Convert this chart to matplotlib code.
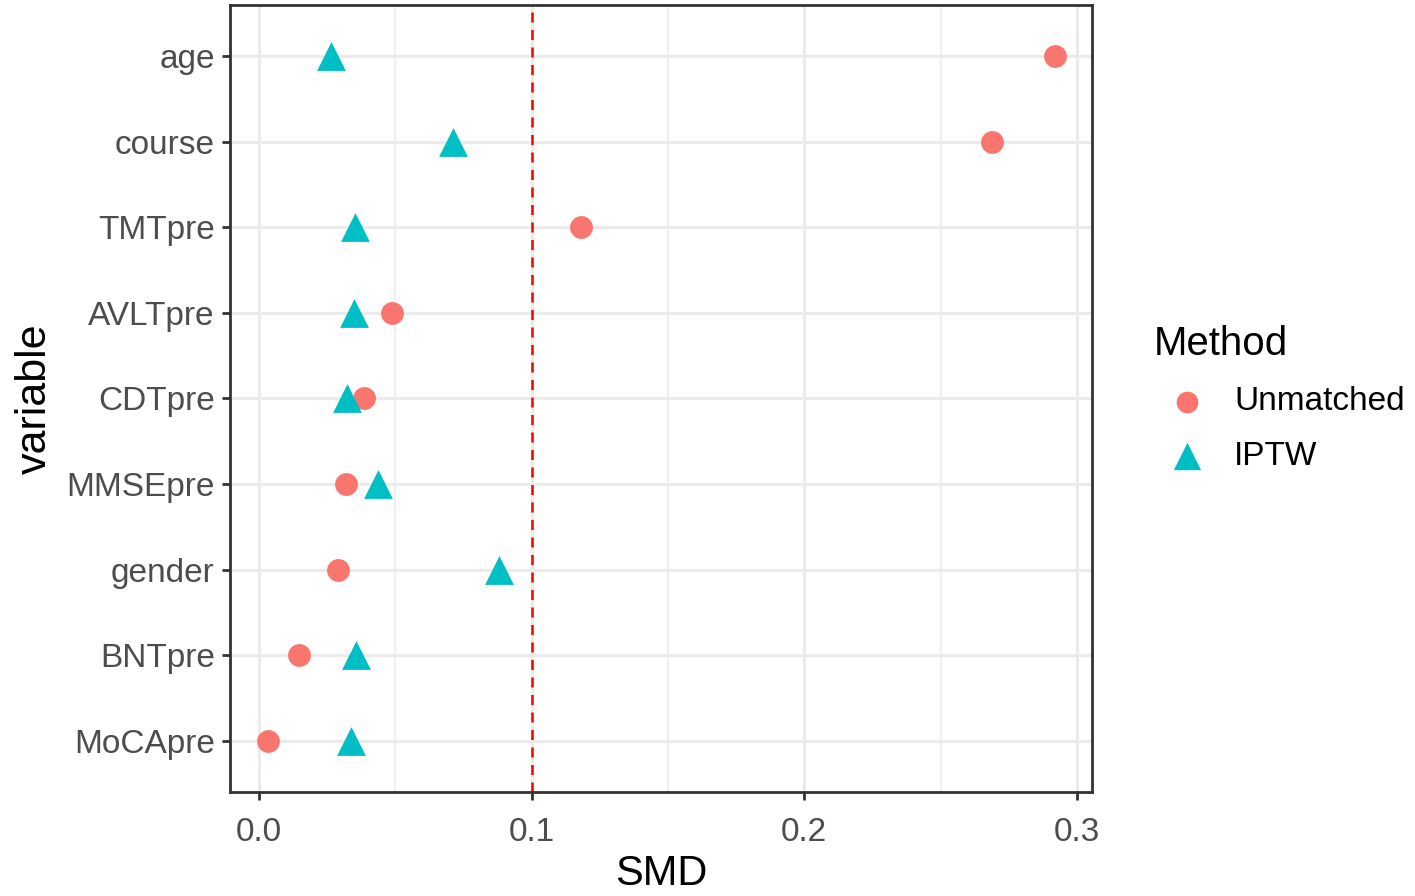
import matplotlib
matplotlib.use('Agg')
import matplotlib.pyplot as plt
from matplotlib.ticker import MultipleLocator

plt.rcParams['font.family'] = ['Liberation Sans', 'DejaVu Sans']

# data (top to bottom)
variables = ['age', 'course', 'TMTpre', 'AVLTpre', 'CDTpre', 'MMSEpre', 'gender', 'BNTpre', 'MoCApre']
unmatched = [0.292, 0.269, 0.118, 0.049, 0.0385, 0.032, 0.029, 0.0147, 0.0033]
iptw = [0.0264, 0.0711, 0.0352, 0.0348, 0.0323, 0.0436, 0.088, 0.0356, 0.0337]

col_unm = '#F8766D'
col_iptw = '#00BFC4'

fig = plt.figure(figsize=(14.15, 8.96), dpi=100)
ax = fig.add_axes([0.1625, 0.1161, 0.6092, 0.8783])

n = len(variables)
ypos = [n - 1 - i for i in range(n)]

ax.scatter(unmatched, ypos, s=270, color=col_unm, marker='o', zorder=3,
           linewidths=0, label='Unmatched')
ax.scatter(iptw, ypos, s=430, color=col_iptw, marker='^', zorder=3,
           linewidths=0, label='IPTW')
ax.axvline(0.1, color='red', linestyle=(0, (4, 3)), linewidth=1.8, zorder=2)

ax.set_xlim(-0.0106, 0.3055)
ax.set_ylim(-0.6, n - 1 + 0.6)
ax.set_yticks(ypos)
ax.set_yticklabels(variables)
ax.xaxis.set_minor_locator(MultipleLocator(0.05))
ax.set_xticks([0.0, 0.1, 0.2, 0.3])
ax.set_xticklabels(['0.0', '0.1', '0.2', '0.3'])

ax.grid(True, which='major', color='#EBEBEB', linewidth=2.2, zorder=0)
ax.grid(True, which='minor', axis='x', color='#EBEBEB', linewidth=1.1, zorder=0)
ax.set_axisbelow(True)
ax.tick_params(axis='both', which='major', labelsize=24, labelcolor='#4D4D4D',
               color='#333333', length=6, width=2)
ax.tick_params(axis='y', which='major', pad=5)
ax.tick_params(axis='x', which='major', pad=12)
ax.tick_params(axis='x', which='minor', length=0)
for sp in ax.spines.values():
    sp.set_color('#333333')
    sp.set_linewidth(2)

ax.set_xlabel('SMD', fontsize=30, labelpad=4)
ax.set_ylabel('variable', fontsize=31, labelpad=8)

leg = ax.legend(loc='center left', bbox_to_anchor=(1.045, 0.5), frameon=False,
                fontsize=24, title='Method', title_fontsize=29,
                handletextpad=0.4, labelspacing=0.7, alignment='left',
                markerscale=0.95, borderpad=0.2)

fig.savefig('out.png', dpi=100)
